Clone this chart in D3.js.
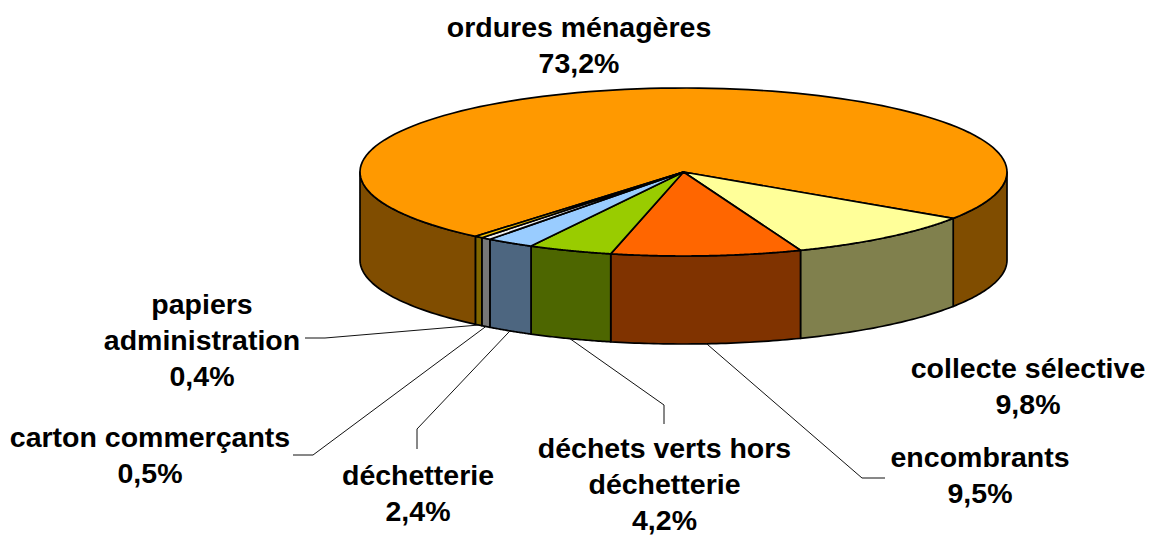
<!DOCTYPE html>
<html>
	<head>
		<title>Déchets - camembert 3D</title>
		<script src="https://d3js.org/d3.v7.min.js"></script>
		<style>
			html, body { margin: 0; padding: 0; background: #fff; }
			svg { display: block; }
			text {
				font-family: "Liberation Sans", Arial, sans-serif;
				font-weight: bold;
				font-size: 28.5px;
				fill: #000;
				text-anchor: middle;
			}
			.leader { fill: none; stroke: #111; stroke-width: 1; }
			.face { stroke: #000; stroke-width: 1.7; stroke-linejoin: round; }
		</style>
	</head>
	<body>
		<svg width="1149" height="536"></svg>
		<script type="text/javascript">
			var categories = ["ordures ménagères", "collecte sélective", "encombrants", "déchets verts hors déchetterie", "déchetterie", "carton commerçants", "papiers administration"];
			var values = [73.2, 9.8, 9.5, 4.2, 2.4, 0.5, 0.4];
			var valueLabels = ["73,2%", "9,8%", "9,5%", "4,2%", "2,4%", "0,5%", "0,4%"];
			var topColors = ["#FF9900", "#FFFF99", "#FF6600", "#99CC00", "#99CCFF", "#EEEEEE", "#FFCC00"];

			var width = 1149, height = 536;
			var cx = 683.5, cy = 172, rx = 323.5, ry = 84, depth = 88;
			var startAngle = 220 * Math.PI / 180;

			// lignes de chaque etiquette, et coudes des traits de rappel
			var labelLines = [
				["ordures ménagères"], ["collecte sélective"], ["encombrants"],
				["déchets verts hors", "déchetterie"], ["déchetterie"], ["carton commerçants"], ["papiers", "administration"]
			];
			var labelPos = [[579, 37], [1028, 378], [980, 467], [664.5, 458], [418, 485], [150, 447], [202, 314]];
			var leaders = [null, null, [[862, 478], [885, 478]], [[664, 405], [664, 424]], [[417, 429], [417, 449]], [[313, 455], [293, 455]], [[325, 338], [305, 338]]];

			var svg = d3.select("svg");

			var slices = d3.pie().sort(null).startAngle(startAngle).endAngle(startAngle + 2 * Math.PI)(values);

			function px(a) { return cx + rx * Math.sin(a); }
			function py(a) { return cy - ry * Math.cos(a); }

			// le flanc est moitie moins lumineux que le dessus
			function halfTone(c) {
				var rgb = d3.rgb(c);
				return d3.rgb(rgb.r / 2, rgb.g / 2, rgb.b / 2).formatHex();
			}

			// partie visible du flanc : entre 90 et 270 degres (modulo 360)
			function visibleParts(s) {
				var parts = [];
				[0, 1].forEach(function(k) {
					var lo = Math.PI / 2 + k * 2 * Math.PI, hi = 3 * Math.PI / 2 + k * 2 * Math.PI;
					var a = Math.max(s.startAngle, lo), b = Math.min(s.endAngle, hi);
					if (b > a) parts.push([a, b]);
				});
				return parts;
			}

			function sidePath(a, b) {
				var angles = d3.range(0, 41).map(function(i) { return a + (b - a) * i / 40; });
				var pts = angles.map(function(t) { return [px(t), py(t)]; })
					.concat(angles.slice().reverse().map(function(t) { return [px(t), py(t) + depth]; }));
				return d3.line()(pts) + "Z";
			}

			function topPath(s) {
				var angles = d3.range(0, 121).map(function(i) { return s.startAngle + (s.endAngle - s.startAngle) * i / 120; });
				var pts = [[cx, cy]].concat(angles.map(function(t) { return [px(t), py(t)]; }));
				return d3.line()(pts) + "Z";
			}

			// flancs
			var sides = [];
			slices.forEach(function(s, i) {
				visibleParts(s).forEach(function(p) { sides.push({ i: i, a: p[0], b: p[1] }); });
			});
			svg.append("g").selectAll("path")
				.data(sides)
				.enter()
				.append("path")
				.attr("class", "face")
				.attr("d", function(d) { return sidePath(d.a, d.b); })
				.attr("fill", function(d) { return halfTone(topColors[d.i]); });

			// dessus
			svg.append("g").selectAll("path")
				.data(slices)
				.enter()
				.append("path")
				.attr("class", "face")
				.attr("d", topPath)
				.attr("fill", function(d, i) { return topColors[i]; });

			// traits de rappel : partent du milieu de la part, au bas du flanc
			svg.append("g").selectAll("path")
				.data(slices.filter(function(s, i) { return leaders[i]; }))
				.enter()
				.append("path")
				.attr("class", "leader")
				.attr("d", function(d) {
					var mid = (d.startAngle + d.endAngle) / 2;
					return d3.line()([[px(mid), py(mid) + depth]].concat(leaders[d.index]));
				});

			// etiquettes
			var labels = svg.append("g").selectAll("text")
				.data(categories)
				.enter()
				.append("text")
				.attr("x", function(d, i) { return labelPos[i][0]; })
				.attr("y", function(d, i) { return labelPos[i][1]; });

			labels.each(function(d, i) {
				var t = d3.select(this);
				labelLines[i].concat([valueLabels[i]]).forEach(function(line, k) {
					t.append("tspan")
						.attr("x", labelPos[i][0])
						.attr("dy", k === 0 ? 0 : 36)
						.text(line);
				});
			});
		</script>
	</body>
</html>
